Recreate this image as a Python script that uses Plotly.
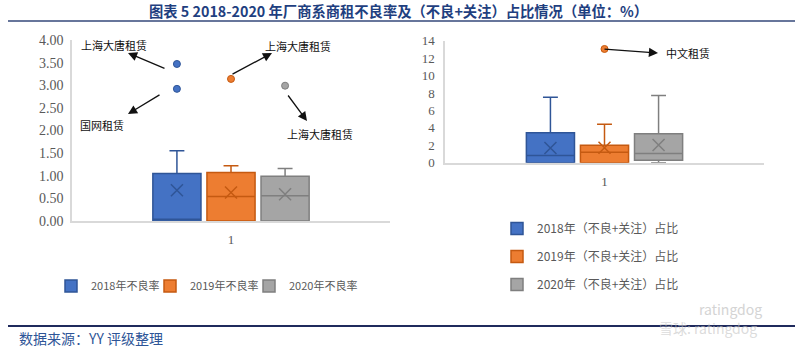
import plotly.graph_objects as go

W, H = 800, 349


def px(x):
    return x / W


def py(y):
    return 1 - y / H


# ---------------- data ----------------
category_label = ["1"]
years = ["2018", "2019", "2020"]
npl_names = ["2018年不良率", "2019年不良率", "2020年不良率"]
ratio_names = ["2018年（不良+关注）占比", "2019年（不良+关注）占比", "2020年（不良+关注）占比"]

# left panel: non-performing rate (%)
npl_low = [0.00, 0.00, 0.00]
npl_q1 = [0.00, 0.00, 0.00]
npl_median = [0.04, 0.54, 0.56]
npl_q3 = [1.05, 1.07, 0.99]
npl_up = [1.55, 1.22, 1.16]
npl_mean = [0.68, 0.63, 0.59]
npl_outliers = [[3.47, 2.92], [3.14], [2.99]]

# right panel: (NPL + special mention) share (%)
ratio_low = [0.00, 0.00, 0.00]
ratio_q1 = [0.00, 0.00, 0.27]
ratio_median = [0.84, 1.19, 1.07]
ratio_q3 = [3.44, 2.00, 3.33]
ratio_up = [7.50, 4.40, 7.70]
ratio_mean = [1.69, 1.72, 2.03]
ratio_outliers = [[], [13.05], []]

# ---------------- styles ----------------
fills = ["#4472C4", "#ED7D31", "#A5A5A5"]
edges = ["#2F5597", "#C55A11", "#7F7F7F"]
serif = "Liberation Serif"
sans = "Noto Sans CJK SC"
left_legends = ["legend", "legend3", "legend4"]

fig = go.Figure()


def add_panel(xa, ya, names, low, q1, med, q3, up, mean, outliers, legends):
    for i in range(3):
        pos = i - 1
        fig.add_trace(go.Box(
            x=[pos], q1=[q1[i]], median=[med[i]], q3=[q3[i]],
            lowerfence=[low[i]], upperfence=[up[i]],
            width=0.89, whiskerwidth=0.31,
            fillcolor=fills[i], line=dict(color=edges[i], width=1.5),
            name=names[i], legend=legends[i], legendgroup=legends[i] + str(i),
            xaxis=xa, yaxis=ya, boxpoints=False, hoverinfo="skip",
        ))
        fig.add_trace(go.Scatter(
            x=[pos], y=[mean[i]], mode="markers",
            marker=dict(symbol="x-thin", size=12,
                        line=dict(color=edges[i], width=1.5)),
            showlegend=False, xaxis=xa, yaxis=ya, hoverinfo="skip",
        ))
        if outliers[i]:
            fig.add_trace(go.Scatter(
                x=[pos] * len(outliers[i]), y=outliers[i], mode="markers",
                marker=dict(size=7, color=fills[i],
                            line=dict(color=edges[i], width=1)),
                showlegend=False, xaxis=xa, yaxis=ya, hoverinfo="skip",
            ))


add_panel("x", "y", npl_names, npl_low, npl_q1, npl_median, npl_q3,
          npl_up, npl_mean, npl_outliers, left_legends)
add_panel("x2", "y2", ratio_names, ratio_low, ratio_q1, ratio_median,
          ratio_q3, ratio_up, ratio_mean, ratio_outliers, ["legend2"] * 3)

axis_common = dict(showgrid=False, zeroline=False, showline=True,
                   linecolor="#D9D9D9", linewidth=1.5, ticks="",
                   automargin=False)


def h_legend(x):
    return dict(orientation="h", x=px(x), y=py(286), xanchor="left",
                yanchor="middle", font=dict(family=sans, size=11, color="#595959"),
                bgcolor="rgba(0,0,0,0)")


fig.update_layout(
    width=W, height=H,
    margin=dict(l=0, r=0, t=0, b=0, autoexpand=False),
    paper_bgcolor="white", plot_bgcolor="white",
    boxmode="overlay",
    xaxis=dict(domain=[px(72), px(390)], range=[-2.94, 2.94],
               tickvals=[0], ticktext=category_label,
               tickfont=dict(family=serif, size=13, color="#595959"),
               ticklabelstandoff=6, **axis_common),
    yaxis=dict(domain=[py(221), py(40)], range=[0, 4], dtick=0.5,
               tickformat=".2f",
               tickfont=dict(family=serif, size=14, color="#595959"),
               ticklabelstandoff=4, **axis_common),
    xaxis2=dict(domain=[px(445), px(764)], range=[-2.95, 2.95],
                tickvals=[0], ticktext=category_label,
                tickfont=dict(family=serif, size=13, color="#595959"),
                ticklabelstandoff=6, anchor="y2", **axis_common),
    yaxis2=dict(domain=[py(162.7), py(40.7)], range=[0, 14], dtick=2,
                tickfont=dict(family=serif, size=13, color="#595959"),
                ticklabelstandoff=6, anchor="x2", **axis_common),
    legend=h_legend(51),
    legend3=h_legend(150),
    legend4=h_legend(249),
    legend2=dict(orientation="v", x=px(497), y=py(214), xanchor="left",
                 yanchor="top", traceorder="grouped", tracegroupgap=9,
                 font=dict(family=sans, size=12, color="#595959"),
                 bgcolor="rgba(0,0,0,0)"),
    showlegend=True,
)


def note(text, x, y, size, color, xanchor="center", family=sans):
    fig.add_annotation(text=text, x=px(x), y=py(y), xref="paper", yref="paper",
                       xanchor=xanchor, yanchor="middle", showarrow=False,
                       font=dict(family=family, size=size, color=color))


# title, lines, source
note("<b>图表 5 2018-2020 年厂商系商租不良率及（不良+关注）占比情况（单位：%）</b>",
     398, 10, 14.3, "#1F3F7F")
fig.add_shape(type="line", xref="paper", yref="paper",
              x0=px(8), x1=px(795), y0=py(21), y1=py(21),
              line=dict(color="#34497A", width=1.5))
fig.add_shape(type="line", xref="paper", yref="paper",
              x0=px(8), x1=px(795), y0=py(326), y1=py(326),
              line=dict(color="#1F2A5C", width=2))
note("数据来源：YY 评级整理", 17, 338, 14, "#2E5597", xanchor="left")

# watermark
note("ratingdog", 730, 309, 14, "#D4D4D4")
note("雪球: ratingdog", 708, 328, 14, "rgba(195,195,195,0.6)")

# callouts
labels = [
    ("上海大唐租赁", 114, 45),
    ("国网租赁", 102, 125),
    ("上海大唐租赁", 298, 46),
    ("上海大唐租赁", 320, 134),
    ("中文租赁", 688, 53),
]
for t, x, y in labels:
    note(t, x, y, 11, "#111111")

arrows = [  # head (x, y), tail offset (ax, ay) in pixels
    (128, 53, 38, 16),
    (128, 114, 33, -20),
    (272, 53, -41, 22),
    (307, 121, -20, -27),
    (658, 53, -55, -4),
]
for x, y, ax, ay in arrows:
    fig.add_annotation(text="", x=px(x), y=py(y), xref="paper", yref="paper",
                       ax=ax, ay=ay, axref="pixel", ayref="pixel",
                       showarrow=True, arrowhead=2, arrowsize=1.4,
                       arrowwidth=1.3, arrowcolor="#111111")

fig.write_html("out.html")
